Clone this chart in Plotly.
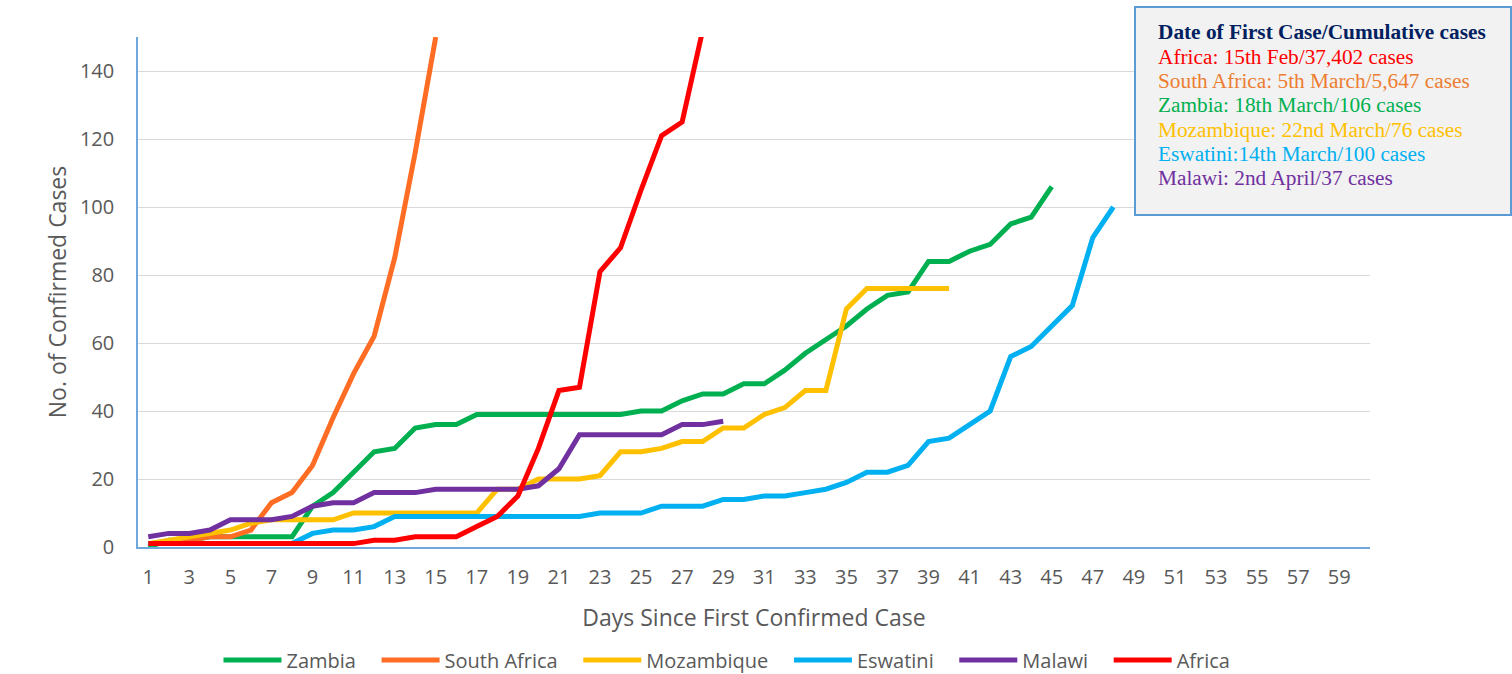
import plotly.graph_objects as go

# ---------------- data ----------------
series_names = ["Zambia", "South Africa", "Mozambique", "Eswatini", "Malawi", "Africa"]
zambia = [0, 2, 2, 3, 3, 3, 3, 3, 12, 16, 22, 28, 29, 35, 36, 36, 39, 39, 39, 39,
          39, 39, 39, 39, 40, 40, 43, 45, 45, 48, 48, 52, 57, 61, 65, 70, 74, 75, 84, 84,
          87, 89, 95, 97, 106]
south_africa = [1, 1, 2, 3, 3, 5, 13, 16, 24, 38, 51, 62, 85, 116, 150]
mozambique = [1, 2, 3, 4, 5, 7, 8, 8, 8, 8, 10, 10, 10, 10, 10, 10, 10, 17, 17, 20,
              20, 20, 21, 28, 28, 29, 31, 31, 35, 35, 39, 41, 46, 46, 70, 76, 76, 76, 76, 76]
eswatini = [1, 1, 1, 1, 1, 1, 1, 1, 4, 5, 5, 6, 9, 9, 9, 9, 9, 9, 9, 9,
            9, 9, 10, 10, 10, 12, 12, 12, 14, 14, 15, 15, 16, 17, 19, 22, 22, 24, 31, 32,
            36, 40, 56, 59, 65, 71, 91, 100]
malawi = [3, 4, 4, 5, 8, 8, 8, 9, 12, 13, 13, 16, 16, 16, 17, 17, 17, 17, 17, 18,
          23, 33, 33, 33, 33, 33, 36, 36, 37]
africa = [1, 1, 1, 1, 1, 1, 1, 1, 1, 1, 1, 2, 2, 3, 3, 3, 6, 9, 15, 29,
          46, 47, 81, 88, 105, 121, 125, 152]
x_tick_labels = ["1", "3", "5", "7", "9", "11", "13", "15", "17", "19", "21", "23", "25",
                 "27", "29", "31", "33", "35", "37", "39", "41", "43", "45", "47", "49",
                 "51", "53", "55", "57", "59"]
y_tick_labels = ["0", "20", "40", "60", "80", "100", "120", "140"]
info_title = "Date of First Case/Cumulative cases"
info_lines = [
    "Africa: 15th Feb/37,402 cases",
    "South Africa: 5th March/5,647 cases",
    "Zambia: 18th March/106 cases",
    "Mozambique: 22nd March/76 cases",
    "Eswatini:14th March/100 cases",
    "Malawi: 2nd April/37 cases",
]

# ---------------- style ----------------
line_colors = ["#00B050", "#FF6C24", "#FFC000", "#00B0F0", "#7030A0", "#FF0000"]
info_colors = ["#FF0000", "#ED7D31", "#00B050", "#FFC000", "#00B0F0", "#7030A0"]
SANS = "Open Sans, Noto Sans, sans-serif"
SERIF = "Liberation Serif, Times New Roman, serif"
GREY = "#595959"
PAD = "\u00a0\u00a0\u00a0"

W, H = 1512, 674
L, R, T, B = 138, 1370, 37, 547

fig = go.Figure()
for name, vals, col in zip(series_names,
                           [zambia, south_africa, mozambique, eswatini, malawi, africa],
                           line_colors):
    fig.add_trace(go.Scatter(
        x=list(range(1, len(vals) + 1)), y=vals, name=name + PAD, mode="lines",
        line=dict(color=col, width=5), hovertemplate=name + ": %{y}<extra></extra>"))


def px_x(px):
    return (px - L) / (R - L)


def px_y(py):
    return (B - py) / (B - T)


fig.update_layout(
    width=W, height=H,
    margin=dict(l=L, r=W - R, t=T, b=H - B, pad=0, autoexpand=False),
    paper_bgcolor="white", plot_bgcolor="white",
    font=dict(family=SANS, color=GREY, size=20),
    showlegend=True,
    legend=dict(orientation="h", x=px_x(735), xanchor="center",
                y=px_y(660), yanchor="middle",
                font=dict(family=SANS, size=20, color=GREY),
                itemwidth=58, bgcolor="rgba(0,0,0,0)", tracegroupgap=0),
)

fig.update_xaxes(
    range=[0.5, 60.5],
    tickmode="array", tickvals=[int(v) for v in x_tick_labels], ticktext=x_tick_labels,
    showgrid=False, zeroline=False,
    showline=True, linecolor="#6FA8DC", linewidth=1.5,
    ticks="", ticklabelstandoff=11, automargin=False,
    tickfont=dict(family=SANS, size=20, color=GREY),
    title=dict(text="Days Since First Confirmed Case", standoff=21,
               font=dict(family=SANS, size=23, color=GREY)),
)
fig.update_yaxes(
    range=[0, 150],
    tickmode="array", tickvals=[int(v) for v in y_tick_labels], ticktext=y_tick_labels,
    showgrid=True, gridcolor="#D9D9D9", gridwidth=1.3, zeroline=False,
    showline=True, linecolor="#6FA8DC", linewidth=1.5,
    ticks="", ticklabelstandoff=18, automargin=False,
    tickfont=dict(family=SANS, size=20, color=GREY),
    title=dict(text="No. of Confirmed Cases", standoff=7,
               font=dict(family=SANS, size=23, color=GREY)),
)

# info box
fig.add_shape(type="rect", xref="paper", yref="paper",
              x0=px_x(1135), x1=px_x(1511), y0=px_y(215), y1=px_y(7),
              line=dict(color="#5B9BD5", width=2), fillcolor="#F2F2F2", layer="above")

info_rows = ["<b>" + info_title + "</b>"] + info_lines
info_row_colors = ["#002060"] + info_colors
info_row_y = [32, 57, 81, 105, 130, 154, 178]
for s, c, yy in zip(info_rows, info_row_colors, info_row_y):
    fig.add_annotation(xref="paper", yref="paper", x=px_x(1156), y=px_y(yy),
                       xanchor="left", yanchor="middle", align="left", showarrow=False,
                       text=s, font=dict(family=SERIF, size=21.3, color=c))

fig.write_html("out.html", config={"displayModeBar": False},
               post_script="document.body.style.margin='0px';")
